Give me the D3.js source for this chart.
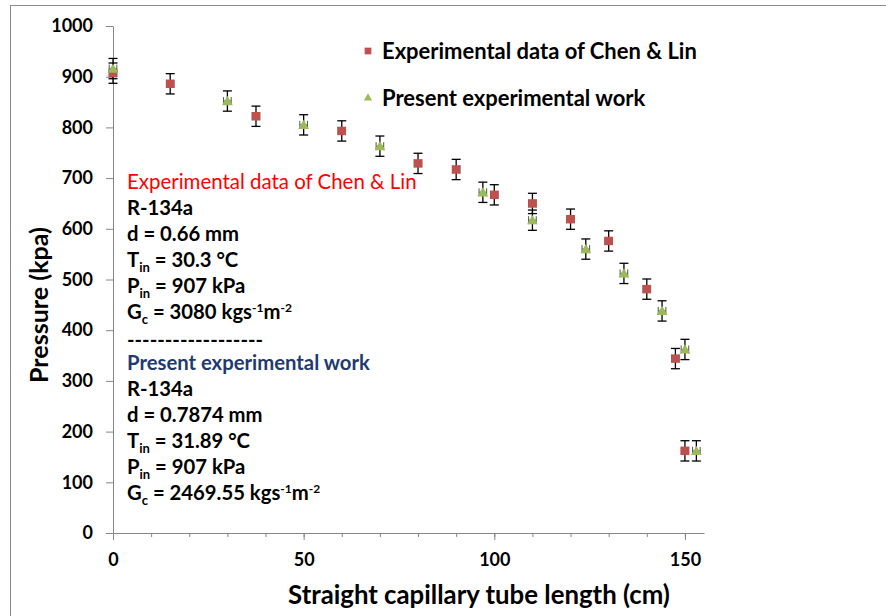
<!DOCTYPE html>
<html>
<head>
<meta charset="utf-8">
<script src="https://cdn.jsdelivr.net/npm/d3@7"></script>
<style>
  body { margin: 0; background: #fff; }
  svg { display: block; font-family: Lato, "Open Sans", sans-serif; }
</style>
</head>
<body>
<svg id="chart" width="886" height="616"></svg>
<script>
// Chen & Lin experimental data (length in cm, pressure in kPa)
const chenX = [0, 15, 37.5, 60, 80, 90, 100, 110, 120, 130, 140, 147.5, 150];
const chenP = [907, 886, 822, 793, 729, 717, 667, 650, 619, 576, 481, 344, 162];

// present experimental work
const presX = [0, 30, 50, 70, 97, 110, 124, 134, 144, 150, 153];
const presP = [916, 852, 805, 763, 672, 617, 560, 512, 438, 362, 162];

const errP = 20;   // kPa
const errX = 1;    // cm

const yTicks = [0, 100, 200, 300, 400, 500, 600, 700, 800, 900, 1000];
const xMajorTicks = [0, 50, 100, 150];
const xMinorTicks = [0, 10, 20, 30, 40, 50, 60, 70, 80, 90, 100, 110, 120, 130, 140, 150];

const legendLabels = ["Experimental data of Chen & Lin", "Present experimental work"];

const margin = {top: 26, left: 113},
  width = 591,
  height = 507;

const svg = d3.select("#chart");

// scale font size so a text node spans the wanted width
function fitText(sel, target) {
  const fs = parseFloat(sel.attr("font-size"));
  const w = sel.node().getComputedTextLength();
  sel.attr("font-size", (fs * target / w).toFixed(2));
}

// outer frame
svg.append("rect")
  .attr("x", 10.5).attr("y", 5.5)
  .attr("width", 1000).attr("height", 1000)
  .attr("fill", "none").attr("stroke", "#8c8c8c");

const g = svg.append("g")
  .attr("transform", "translate(" + margin.left + "," + margin.top + ")");

const x = d3.scaleLinear().domain([0, 155]).range([0, width]);
const y = d3.scaleLinear().domain([0, 1000]).range([height, 0]);

// Y axis
const yAxis = g.append("g")
  .call(d3.axisLeft(y).tickValues(yTicks).tickFormat(d3.format("d"))
    .tickSize(7).tickPadding(13).tickSizeOuter(0));
yAxis.select(".domain").attr("stroke", "#868686");
yAxis.selectAll(".tick line").attr("stroke", "#868686");
yAxis.selectAll(".tick text")
  .attr("font-size", 18).attr("font-weight", "bold").attr("fill", "#000")
  .attr("font-family", "Lato, sans-serif");

// X axis minor ticks
const xMinor = g.append("g")
  .attr("transform", "translate(0," + height + ")")
  .call(d3.axisBottom(x).tickValues(xMinorTicks).tickSize(4).tickFormat("").tickSizeOuter(0));
xMinor.select(".domain").attr("stroke", "#868686");
xMinor.selectAll(".tick line").attr("stroke", "#868686");

// X axis major ticks
const xMajor = g.append("g")
  .attr("transform", "translate(0," + height + ")")
  .call(d3.axisBottom(x).tickValues(xMajorTicks).tickSize(7).tickPadding(13).tickSizeOuter(0));
xMajor.select(".domain").remove();
xMajor.selectAll(".tick line").attr("stroke", "#868686");
xMajor.selectAll(".tick text")
  .attr("font-size", 18).attr("font-weight", "bold").attr("fill", "#000")
  .attr("font-family", "Lato, sans-serif");

// axis titles
const yTitle = svg.append("text")
  .attr("transform", "translate(48,305) rotate(-90)")
  .attr("text-anchor", "middle")
  .attr("font-size", 22).attr("font-weight", "bold")
  .text("Pressure (kpa)");
fitText(yTitle, 156);

const xTitle = svg.append("text")
  .attr("x", 479).attr("y", 604)
  .attr("text-anchor", "middle")
  .attr("font-size", 22).attr("font-weight", "bold")
  .text("Straight capillary tube length (cm)");
fitText(xTitle, 382);

// error bars
function drawErrors(xs, ps) {
  const eg = g.append("g");
  xs.forEach(function (v, i) {
    const cx = x(v), cy = y(ps[i]);
    const y0 = y(ps[i] - errP), y1 = y(ps[i] + errP);
    const x0 = x(v - errX), x1 = x(v + errX);
    eg.append("line").attr("x1", cx).attr("x2", cx).attr("y1", y0).attr("y2", y1)
      .attr("stroke", "#000").attr("stroke-width", 1.3);
    [y0, y1].forEach(function (yy) {
      eg.append("line").attr("x1", cx - 4.5).attr("x2", cx + 4.5).attr("y1", yy).attr("y2", yy)
        .attr("stroke", "#000").attr("stroke-width", 1.3);
    });
    eg.append("line").attr("x1", x0).attr("x2", x1).attr("y1", cy).attr("y2", cy)
      .attr("stroke", "#555").attr("stroke-width", 1);
    [x0, x1].forEach(function (xx) {
      eg.append("line").attr("x1", xx).attr("x2", xx).attr("y1", cy - 4).attr("y2", cy + 4)
        .attr("stroke", "#555").attr("stroke-width", 1);
    });
  });
}
drawErrors(chenX, chenP);
drawErrors(presX, presP);

const square = d3.symbol().type(d3.symbolSquare);
const triangle = d3.symbol().type(d3.symbolTriangle);

g.append("g").selectAll("path")
  .data(chenX)
  .join("path")
  .attr("transform", function (d, i) { return "translate(" + x(d) + "," + y(chenP[i]) + ")"; })
  .attr("d", square.size(72))
  .attr("fill", "#C0504D");

g.append("g").selectAll("path")
  .data(presX)
  .join("path")
  .attr("transform", function (d, i) { return "translate(" + x(d) + "," + (y(presP[i]) + 1) + ")"; })
  .attr("d", triangle.size(50))
  .attr("fill", "#9BBB59");

// legend
const legend = svg.append("g");
legend.append("path")
  .attr("transform", "translate(368,51)")
  .attr("d", square.size(45)).attr("fill", "#C0504D");
legend.append("path")
  .attr("transform", "translate(368,98)")
  .attr("d", triangle.size(30)).attr("fill", "#9BBB59");
const legendText = legend.selectAll("text")
  .data(legendLabels)
  .join("text")
  .attr("x", 382)
  .attr("y", function (d, i) { return 51 + i * 47; })
  .attr("dy", "0.35em")
  .attr("font-size", 20).attr("font-weight", "bold")
  .text(function (d) { return d; });
fitText(d3.select(legendText.nodes()[0]), 315);
legendText.attr("font-size", d3.select(legendText.nodes()[0]).attr("font-size"));

// annotation block
const note = svg.append("g").attr("font-size", 20).attr("font-weight", "bold");
const lineH = 25.9;
let row = 0;
function noteLine(parts, color, weight, shift) {
  const t = note.append("text")
    .attr("x", 127).attr("y", 189 + row * lineH + (shift || 0))
    .attr("fill", color || "#000");
  if (weight) t.attr("font-weight", weight);
  parts.forEach(function (p) {
    const s = t.append("tspan").text(p[0]);
    if (p[1] === "sub") s.attr("font-size", 13).attr("dy", 5);
    if (p[1] === "sup") s.attr("font-size", 12).attr("dy", -7);
    if (p[1] === "base") s.attr("dy", p[2]);
  });
  row++;
  return t;
}

const redTitle = noteLine([["Experimental data of Chen & Lin"]], "#FF0000", "normal");
redTitle.attr("font-size", 20);
fitText(redTitle, 290);
noteLine([["R-134a"]]);
noteLine([["d = 0.66 mm"]]);
noteLine([["T"], ["in", "sub"], [" = 30.3 °C", "base", -5]]);
noteLine([["P"], ["in", "sub"], [" = 907 kPa", "base", -5]]);
noteLine([["G"], ["c", "sub"], [" = 3080 kgs", "base", -5], ["-1", "sup"], ["m", "base", 7], ["-2", "sup"]]);
noteLine([["------------------"]], null, null, 3);
const blueTitle = noteLine([["Present experimental work"]], "#1F3A6E");
noteLine([["R-134a"]]);
noteLine([["d = 0.7874 mm"]]);
noteLine([["T"], ["in", "sub"], [" = 31.89 °C", "base", -5]]);
noteLine([["P"], ["in", "sub"], [" = 907 kPa", "base", -5]]);
noteLine([["G"], ["c", "sub"], [" = 2469.55 kgs", "base", -5], ["-1", "sup"], ["m", "base", 7], ["-2", "sup"]]);

// size the black block from the blue heading width
const fsBlue = 20 * 243 / blueTitle.node().getComputedTextLength();
note.attr("font-size", fsBlue.toFixed(2));
</script>
</body>
</html>
